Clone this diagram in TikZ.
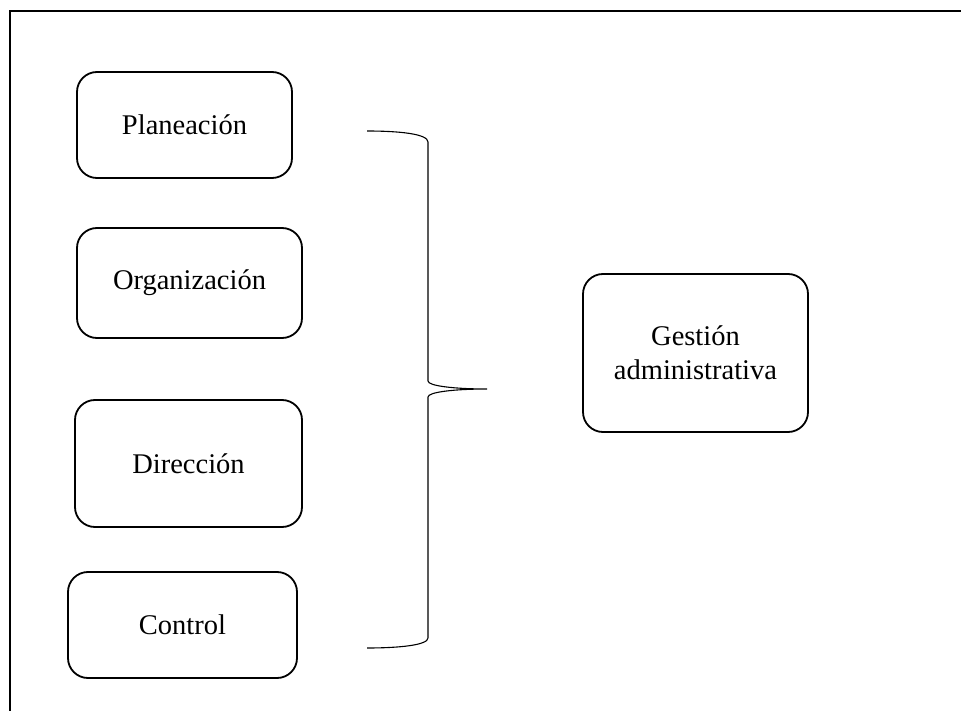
\documentclass[tikz,border=0pt]{standalone}
\usepackage{fontspec}
\setmainfont{Liberation Serif}
\begin{document}
\begin{tikzpicture}[x=1pt,y=-1pt,
  box/.style={draw,line width=1.8pt,rounded corners=20pt,align=center,font=\fontsize{28.5}{34}\selectfont,inner sep=0pt},
  frame/.style={line width=2pt},
  bracepath/.style={line width=1.1pt}]
\useasboundingbox (0,0) rectangle (961,711);
\draw[frame] (10,711) -- (10,11) -- (961,11);
\node[box,minimum width=215pt,minimum height=106pt] (plan) at (184.5,125) {Planeación};
\node[box,minimum width=225pt,minimum height=110pt] (org) at (189.5,283) {Organización};
\node[box,minimum width=227pt,minimum height=127pt] (dir) at (188.5,463.5) {Dirección};
\node[box,minimum width=229pt,minimum height=106pt] (ctrl) at (182.5,625) {Control};
\node[box,minimum width=225pt,minimum height=158pt] (gest) at (695.5,353) {Gestión\\administrativa};
\coordinate (btop) at (367,131);
\coordinate (btip) at (487,389);
\coordinate (bbot) at (367,648);
\draw[bracepath] (btop) .. controls (400,131) and (428,134) .. (428,142) -- (428,381)
  .. controls (428,386) and (455,389) .. (btip)
  .. controls (455,389) and (428,392) .. (428,397) -- (428,638)
  .. controls (428,645) and (400,648) .. (bbot);
\end{tikzpicture}
\end{document}
